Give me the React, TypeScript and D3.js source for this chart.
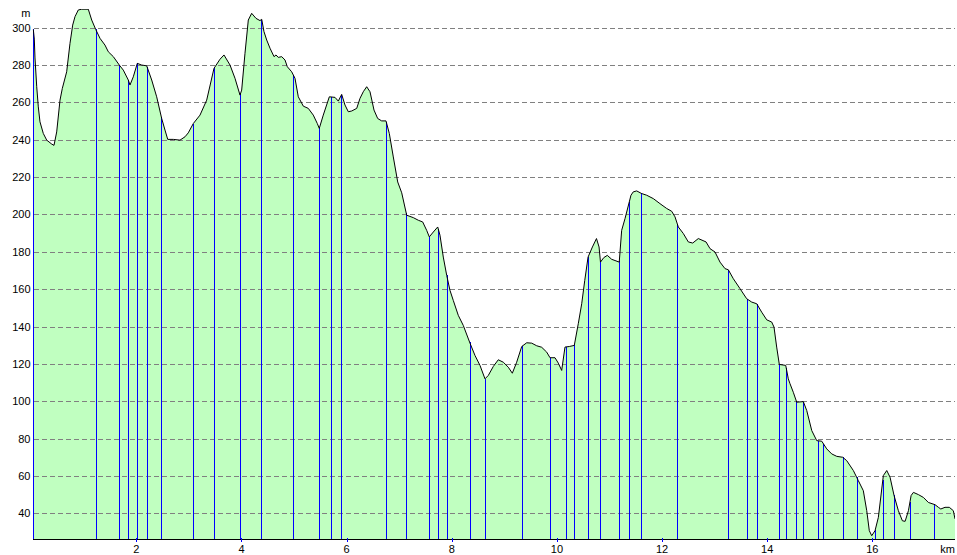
import React, { useMemo } from "react";
import * as d3 from "d3";

const distKm = [
  0.04, 0.059, 0.072, 0.105, 0.135, 0.167, 0.23, 0.295, 0.39, 0.434, 0.485, 0.548, 0.592, 0.675, 0.738, 0.789, 0.833, 0.896, 0.961, 1.086,
  1.151, 1.227, 1.309, 1.403, 1.467, 1.562, 1.676, 1.752, 1.847, 1.879, 1.942, 2.018, 2.102, 2.197, 2.292, 2.387, 2.482, 2.545, 2.597, 2.703,
  2.83, 2.926, 2.988, 3.084, 3.211, 3.338, 3.477, 3.591, 3.667, 3.782, 3.877, 3.972, 4.004, 4.067, 4.13, 4.194, 4.276, 4.352, 4.385, 4.428,
  4.48, 4.543, 4.619, 4.657, 4.7, 4.765, 4.828, 4.872, 4.955, 5.018, 5.081, 5.176, 5.271, 5.366, 5.442, 5.48, 5.556, 5.671, 5.779, 5.842,
  5.906, 5.969, 6.032, 6.097, 6.192, 6.255, 6.317, 6.382, 6.445, 6.521, 6.591, 6.667, 6.749, 6.812, 6.888, 6.972, 7.048, 7.143, 7.269, 7.364,
  7.447, 7.523, 7.573, 7.649, 7.733, 7.776, 7.839, 7.904, 7.966, 8.029, 8.124, 8.219, 8.347, 8.442, 8.537, 8.632, 8.695, 8.79, 8.885, 8.98,
  9.076, 9.152, 9.235, 9.331, 9.426, 9.521, 9.616, 9.711, 9.806, 9.869, 9.964, 10.027, 10.091, 10.154, 10.236, 10.331, 10.407, 10.472, 10.53, 10.593,
  10.676, 10.753, 10.802, 10.829, 10.892, 10.959, 11.042, 11.186, 11.232, 11.296, 11.377, 11.409, 11.453, 11.518, 11.613, 11.708, 11.834, 11.961, 12.089, 12.184,
  12.247, 12.31, 12.405, 12.5, 12.584, 12.69, 12.837, 12.913, 13.008, 13.103, 13.198, 13.261, 13.356, 13.483, 13.61, 13.706, 13.801, 13.896, 13.991, 14.086,
  14.13, 14.181, 14.231, 14.353, 14.402, 14.434, 14.497, 14.562, 14.688, 14.753, 14.848, 14.943, 15.038, 15.133, 15.228, 15.323, 15.437, 15.513, 15.639, 15.734,
  15.829, 15.894, 15.943, 15.989, 16.052, 16.115, 16.21, 16.275, 16.338, 16.414, 16.496, 16.572, 16.624, 16.687, 16.738, 16.782, 16.877, 16.972, 17.067, 17.194,
  17.257, 17.303, 17.383, 17.465, 17.541, 17.573,
];

const elevM = [
  299.1, 293.9, 283.8, 268.4, 257.6, 249.6, 243.4, 239.8, 237.7, 237.0, 244.2, 261.2, 267.5, 276.4, 291.6, 301.4, 305.9, 309.5, 309.9, 309.9,
  304.1, 299.1, 294.3, 290.7, 287.1, 284.5, 280.0, 277.3, 272.0, 269.3, 273.7, 280.9, 280.0, 279.6, 272.0, 263.0, 251.4, 245.2, 240.2, 240.2,
  239.8, 241.6, 243.7, 248.7, 253.2, 261.2, 278.2, 283.1, 285.4, 280.0, 272.9, 263.9, 266.6, 286.3, 304.1, 307.7, 305.0, 303.8, 304.5, 297.9,
  293.4, 289.0, 284.5, 285.4, 284.1, 284.5, 282.7, 279.1, 276.4, 272.9, 263.0, 258.0, 256.8, 253.2, 248.7, 246.1, 253.2, 263.0, 262.7, 260.7,
  264.3, 258.6, 255.0, 255.4, 256.8, 262.2, 265.7, 268.4, 265.7, 255.9, 251.4, 250.1, 250.1, 243.4, 230.8, 217.4, 211.6, 199.6, 198.3, 196.9,
  196.0, 191.5, 188.0, 190.6, 193.3, 188.9, 177.2, 167.4, 159.4, 154.0, 146.0, 140.6, 131.1, 124.5, 119.2, 112.0, 113.8, 118.6, 122.2, 120.9,
  118.2, 115.0, 120.9, 129.3, 131.3, 131.1, 129.7, 128.9, 126.3, 123.3, 123.3, 120.4, 116.5, 129.0, 129.3, 129.9, 141.5, 152.2, 164.7, 177.2,
  182.6, 187.1, 182.6, 174.5, 176.9, 178.1, 176.0, 174.5, 191.5, 197.8, 206.7, 210.3, 212.1, 212.6, 211.2, 210.3, 208.5, 205.8, 203.2, 201.7,
  198.7, 193.3, 189.8, 185.3, 184.7, 187.1, 185.3, 181.7, 179.9, 174.5, 171.0, 170.4, 165.6, 160.3, 154.9, 153.1, 152.2, 147.7, 143.6, 142.4,
  139.7, 129.0, 119.7, 119.2, 112.0, 109.4, 104.8, 99.5, 99.8, 95.0, 84.3, 78.9, 78.6, 74.5, 71.8, 70.5, 70.0, 68.2, 62.9, 57.5,
  52.1, 41.4, 30.7, 28.0, 30.7, 37.8, 60.2, 62.9, 59.3, 49.5, 41.4, 36.0, 35.7, 41.4, 49.5, 51.2, 50.0, 48.5, 45.8, 44.6,
  43.2, 42.3, 43.2, 43.2, 41.4, 37.0,
];

const waypointKm = [
  0.04, 1.227, 1.676, 1.847, 2.018, 2.208, 2.475, 3.084, 3.483, 3.978, 4.377, 4.986, 5.48, 5.709, 5.899, 6.755, 7.135, 7.573, 7.744, 7.904,
  8.341, 8.638, 9.342, 9.875, 10.168, 10.331, 10.593, 10.829, 11.187, 11.377, 11.606, 12.291, 13.263, 13.624, 13.798, 14.23, 14.363, 14.554,
  14.687, 14.961, 15.067, 15.437, 15.704, 16.056, 16.201, 16.41, 16.717, 17.179,
];

const yTicks = [40, 60, 80, 100, 120, 140, 160, 180, 200, 220, 240, 260, 280, 300];
const xTicks = [2, 4, 6, 8, 10, 12, 14, 16];

const W = 957;
const H = 555;
const FONT = "'Liberation Sans', Arial, sans-serif";

export default function App() {
  const x = useMemo(() => d3.scaleLinear().domain([0, 17.573]).range([31.2, 955]), []);
  const y = useMemo(() => d3.scaleLinear().domain([40, 300]).range([513.3, 27.7]), []);
  const axisY = 539;
  const plotTop = 9;
  const plotLeft = 33.5;
  const plotRight = 955;

  const data = distKm.map((d, i) => ({ d, e: elevM[i] }));

  const area = d3
    .area<{ d: number; e: number }>()
    .x((p) => x(p.d))
    .y0(axisY)
    .y1((p) => y(p.e));
  const line = d3
    .line<{ d: number; e: number }>()
    .x((p) => x(p.d))
    .y((p) => y(p.e));

  const interp = (km: number) => {
    const i = d3.bisector((p: { d: number }) => p.d).left(data, km);
    if (i <= 0) return data[0].e;
    if (i >= data.length) return data[data.length - 1].e;
    const a = data[i - 1];
    const b = data[i];
    const t = (km - a.d) / (b.d - a.d);
    return a.e + (b.e - a.e) * t;
  };

  return (
    <svg
      width={W}
      height={H}
      style={{ position: "absolute", left: 0, top: 0, background: "#ffffff" }}
      fontFamily={FONT}
    >
      <defs>
        <clipPath id="plotClip">
          <rect x={plotLeft - 1} y={plotTop} width={plotRight - plotLeft + 1} height={axisY - plotTop} />
        </clipPath>
      </defs>
      <rect x={0} y={0} width={W} height={H} fill="#ffffff" />
      <g clipPath="url(#plotClip)">
        <path d={area(data) || ""} fill="#c0ffc0" stroke="none" />
      </g>
      {yTicks.map((t) => (
        <line
          key={"g" + t}
          x1={plotLeft}
          x2={plotRight}
          y1={Math.round(y(t)) + 0.5}
          y2={Math.round(y(t)) + 0.5}
          stroke="#808080"
          strokeWidth={1}
          strokeDasharray="5,3"
          shapeRendering="crispEdges"
        />
      ))}
      <g clipPath="url(#plotClip)">
        {waypointKm.map((k, i) => (
          <line
            key={"w" + i}
            x1={Math.round(x(k)) + 0.5}
            x2={Math.round(x(k)) + 0.5}
            y1={y(interp(k))}
            y2={axisY}
            stroke="#0000ff"
            strokeWidth={1}
            shapeRendering="crispEdges"
          />
        ))}
        <path d={line(data) || ""} fill="none" stroke="#000000" strokeWidth={1} />
      </g>
      <line
        x1={plotLeft - 1}
        x2={plotRight}
        y1={axisY + 0.5}
        y2={axisY + 0.5}
        stroke="#000000"
        strokeWidth={1}
        shapeRendering="crispEdges"
      />
      {xTicks.map((t) => (
        <g key={"x" + t}>
          <line
            x1={Math.round(x(t)) + 0.5}
            x2={Math.round(x(t)) + 0.5}
            y1={axisY - 1}
            y2={axisY + 3}
            stroke="#0000ff"
            strokeWidth={1}
            shapeRendering="crispEdges"
          />
          <text x={x(t)} y={553} fontSize={11} textAnchor="middle" fill="#000000">
            {t}
          </text>
        </g>
      ))}
      {yTicks.map((t) => (
        <text key={"y" + t} x={30.5} y={y(t) + 4} fontSize={11} textAnchor="end" fill="#000000">
          {t}
        </text>
      ))}
      <text x={30.5} y={17} fontSize={11} textAnchor="end" fill="#000000">
        m
      </text>
      <text x={955} y={553} fontSize={11} textAnchor="end" fill="#000000">
        km
      </text>
    </svg>
  );
}
